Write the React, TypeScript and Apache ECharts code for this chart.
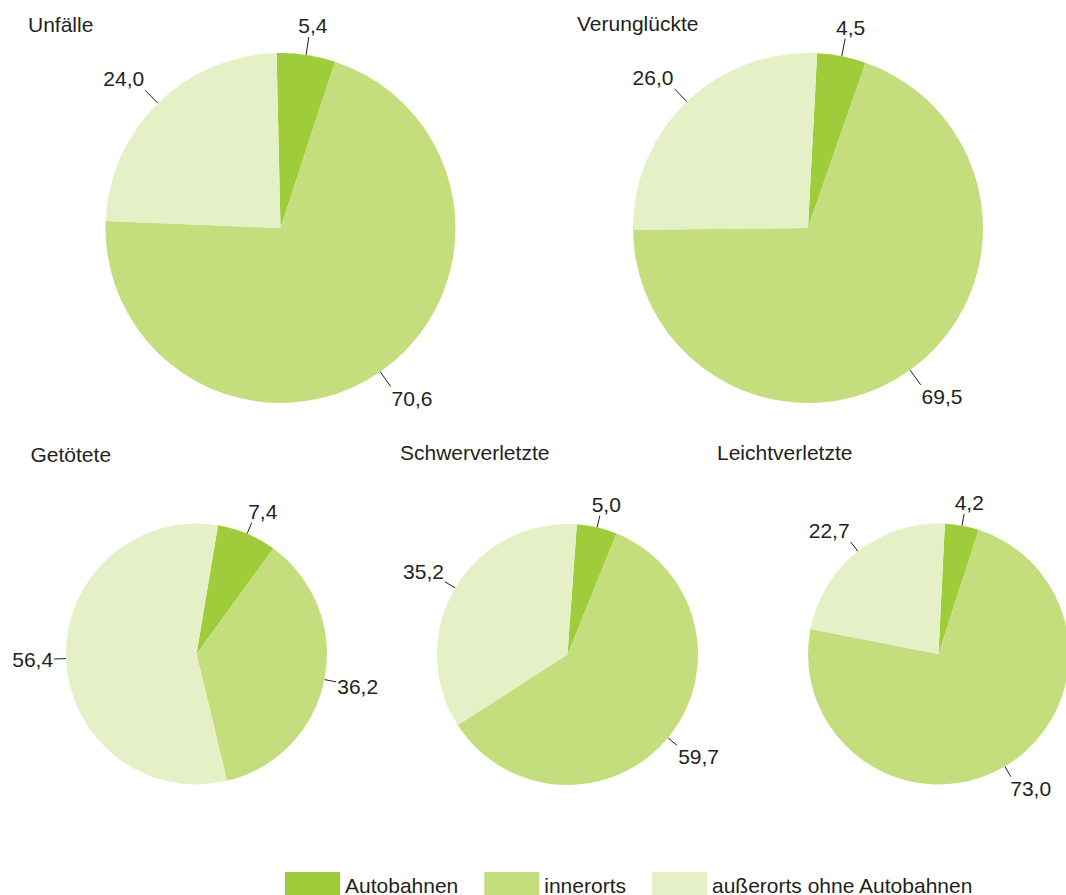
import React, { useEffect, useRef } from 'react';
import * as echarts from 'echarts';

// ---- data ----
const categories = ['Autobahnen', 'innerorts', 'außerorts ohne Autobahnen'];
const chartTitles = ['Unfälle', 'Verunglückte', 'Getötete', 'Schwerverletzte', 'Leichtverletzte'];
const unfaelle = [5.4, 70.6, 24.0];
const verunglueckte = [4.5, 69.5, 26.0];
const getoetete = [7.4, 36.2, 56.4];
const schwerverletzte = [5.0, 59.7, 35.2];
const leichtverletzte = [4.2, 73.0, 22.7];
const seriesValues = [unfaelle, verunglueckte, getoetete, schwerverletzte, leichtverletzte];

// ---- styling / layout ----
const colors = ['#9FCC3B', '#C5DE7D', '#E5F0C7'];
const textColor = '#231F20';
const fontFamily = '"Liberation Sans", Arial, Helvetica, sans-serif';
const layout = [
  { center: [280.5, 228], radius: 175, startAngle: 91.3, lineLen: 18, titleLeft: 28, titleTop: 13.7 },
  { center: [808, 228], radius: 175, startAngle: 87, lineLen: 18, titleLeft: 577, titleTop: 12.8 },
  { center: [196.5, 654], radius: 130.5, startAngle: 80.5, lineLen: 12, titleLeft: 30.5, titleTop: 444.3 },
  { center: [567.5, 654.5], radius: 130.5, startAngle: 85.9, lineLen: 12, titleLeft: 400, titleTop: 441.7 },
  { center: [938.5, 654], radius: 130.5, startAngle: 87.2, lineLen: 12, titleLeft: 717, titleTop: 441.7 },
];

const fmt = (p: any) => Number(p.value).toFixed(1).replace('.', ',');

const clamp1 = (v: number) => Math.max(-1, Math.min(1, v));

// place the label so that it touches the end of its leader line (Excel-like "best fit")
const labelLayoutFn = (params: any) => {
  const pts = params.labelLinePoints;
  if (!pts || pts.length < 2) return {};
  const p0 = pts[0];
  const p1 = pts[1];
  let ux = p1[0] - p0[0];
  let uy = p1[1] - p0[1];
  const len = Math.hypot(ux, uy) || 1;
  ux /= len;
  uy /= len;
  const w = params.labelRect.width;
  const h = params.labelRect.height;
  const gx = clamp1(ux / 0.55);
  const gy = clamp1(uy / 0.55);
  return {
    x: p1[0] + gx * (w / 2 + 1),
    y: p1[1] + gy * (h / 2 + 1),
    align: 'center',
    verticalAlign: 'middle',
    labelLinePoints: [p0, p1, p1],
  };
};

export default function App() {
  const ref = useRef<HTMLDivElement>(null);

  useEffect(() => {
    if (!ref.current) return;
    const chart = echarts.init(ref.current, undefined, { renderer: 'svg' });
    chart.setOption({
      animation: false,
      backgroundColor: '#ffffff',
      color: colors,
      textStyle: { fontFamily },
      title: chartTitles.map((t, i) => ({
        text: t,
        left: layout[i].titleLeft,
        top: layout[i].titleTop,
        padding: 0,
        textStyle: { fontSize: 21, fontWeight: 'normal', color: textColor, fontFamily },
      })),
      legend: {
        data: categories,
        left: 285,
        top: 872,
        orient: 'horizontal',
        icon: 'rect',
        itemWidth: 55,
        itemHeight: 26,
        itemGap: 26,
        padding: 0,
        selectedMode: false,
        textStyle: { fontSize: 21, color: textColor, fontFamily },
      },
      series: seriesValues.map((vals, i) => ({
        type: 'pie',
        name: chartTitles[i],
        center: layout[i].center,
        radius: layout[i].radius,
        startAngle: layout[i].startAngle,
        clockwise: true,
        avoidLabelOverlap: false,
        silent: true,
        data: categories.map((c, j) => ({ name: c, value: vals[j] })),
        itemStyle: { borderWidth: 0 },
        label: {
          show: true,
          position: 'outside',
          formatter: fmt,
          color: textColor,
          fontSize: 21,
          fontFamily,
          distanceToLabelLine: 0,
        },
        labelLine: {
          show: true,
          length: layout[i].lineLen,
          length2: 0,
          smooth: false,
          lineStyle: { color: textColor, width: 1 },
        },
        labelLayout: labelLayoutFn,
        emphasis: { disabled: true },
      })),
    });
    return () => chart.dispose();
  }, []);

  return (
    <div
      ref={ref}
      style={{ position: 'absolute', left: 0, top: 0, width: 1066, height: 895, overflow: 'hidden' }}
    />
  );
}
